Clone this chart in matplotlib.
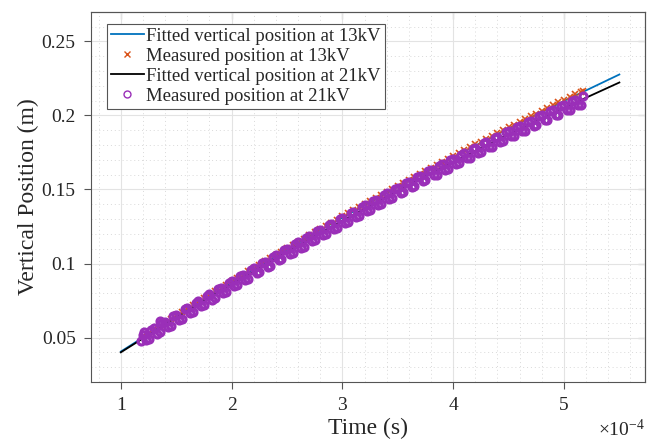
import matplotlib
matplotlib.use("Agg")
import matplotlib.pyplot as plt
from matplotlib.ticker import FixedLocator, FuncFormatter, MultipleLocator

plt.rcParams['font.family'] = ['Liberation Serif', 'DejaVu Serif']
plt.rcParams['mathtext.fontset'] = 'custom'
plt.rcParams['mathtext.rm'] = 'Liberation Serif'

# ---- data (time in units of 1e-4 s, position in m) ----
t_fit = [1.0, 1.5, 2.0, 2.5, 3.0, 3.5, 4.0, 4.5, 5.0, 5.5]
fit_13kV = [0.0405, 0.0642, 0.0872, 0.1095, 0.1310, 0.1518, 0.1719, 0.1912, 0.2098, 0.2277]
fit_21kV = [0.0400, 0.0635, 0.0861, 0.1080, 0.1290, 0.1493, 0.1687, 0.1874, 0.2052, 0.2223]

# measured 13 kV (two interleaved sample sets)
t_13_a = [1.2, 1.3, 1.4, 1.5, 1.6, 1.7, 1.8, 1.9, 2.0, 2.1, 2.2, 2.3, 2.4, 2.5,
          2.6, 2.7, 2.8, 2.9, 3.0, 3.1, 3.2, 3.3, 3.4, 3.5, 3.6, 3.7, 3.8, 3.9,
          4.0, 4.1, 4.2, 4.3, 4.4, 4.5, 4.6, 4.7, 4.8, 4.9, 5.0, 5.1, 5.17]
y_13_a = [0.0509, 0.0556, 0.0603, 0.0650, 0.0697, 0.0743, 0.0789, 0.0835, 0.0880,
          0.0925, 0.0970, 0.1015, 0.1059, 0.1103, 0.1146, 0.1190, 0.1233, 0.1276,
          0.1318, 0.1360, 0.1402, 0.1444, 0.1485, 0.1526, 0.1567, 0.1607, 0.1647,
          0.1687, 0.1727, 0.1766, 0.1805, 0.1844, 0.1882, 0.1920, 0.1958, 0.1995,
          0.2033, 0.2070, 0.2106, 0.2143, 0.2168]
t_13_b = [1.25, 1.35, 1.45, 1.55, 1.65, 1.75, 1.85, 1.95, 2.05, 2.15, 2.25, 2.35,
          2.45, 2.55, 2.65, 2.75, 2.85, 2.95, 3.05, 3.15, 3.25, 3.35, 3.45, 3.55,
          3.65, 3.75, 3.85, 3.95, 4.05, 4.15, 4.25, 4.35, 4.45, 4.55, 4.65, 4.75,
          4.85, 4.95, 5.05, 5.15]
y_13_b = [0.0533, 0.0580, 0.0627, 0.0674, 0.0720, 0.0766, 0.0812, 0.0858, 0.0903,
          0.0947, 0.0992, 0.1037, 0.1081, 0.1125, 0.1168, 0.1212, 0.1254, 0.1297,
          0.1339, 0.1381, 0.1423, 0.1465, 0.1506, 0.1546, 0.1587, 0.1627, 0.1667,
          0.1707, 0.1747, 0.1785, 0.1824, 0.1863, 0.1901, 0.1939, 0.1977, 0.2013,
          0.2051, 0.2088, 0.2124, 0.2161]

# measured 21 kV (four interleaved sample sets)
t_21_a = [1.2, 1.3, 1.4, 1.5, 1.6, 1.7, 1.8, 1.9, 2.0, 2.1, 2.2, 2.3, 2.4, 2.5,
          2.6, 2.7, 2.8, 2.9, 3.0, 3.1, 3.2, 3.3, 3.4, 3.5, 3.6, 3.7, 3.8, 3.9,
          4.0, 4.1, 4.2, 4.3, 4.4, 4.5, 4.6, 4.7, 4.8, 4.9, 5.0, 5.1]
y_21_a = [0.0515, 0.0562, 0.0608, 0.0655, 0.0700, 0.0746, 0.0791, 0.0836, 0.0881,
          0.0925, 0.0969, 0.1013, 0.1056, 0.1100, 0.1142, 0.1185, 0.1227, 0.1269,
          0.1310, 0.1351, 0.1392, 0.1432, 0.1473, 0.1513, 0.1552, 0.1591, 0.1630,
          0.1669, 0.1707, 0.1745, 0.1783, 0.1820, 0.1857, 0.1894, 0.1930, 0.1966,
          0.2002, 0.2037, 0.2072, 0.2107]
t_21_b = [1.18, 1.25, 1.35, 1.45, 1.55, 1.65, 1.75, 1.85, 1.95, 2.05, 2.15, 2.25,
          2.35, 2.45, 2.55, 2.65, 2.75, 2.85, 2.95, 3.05, 3.15, 3.25, 3.35, 3.45,
          3.55, 3.65, 3.75, 3.85, 3.95, 4.05, 4.15, 4.25, 4.35, 4.45, 4.55, 4.65,
          4.75, 4.85, 4.95, 5.05, 5.15, 1.35, 1.21]
y_21_b = [0.0475, 0.0488, 0.0535, 0.0581, 0.0628, 0.0673, 0.0719, 0.0764, 0.0809,
          0.0853, 0.0897, 0.0941, 0.0985, 0.1028, 0.1071, 0.1113, 0.1156, 0.1198,
          0.1239, 0.1281, 0.1322, 0.1362, 0.1403, 0.1443, 0.1482, 0.1522, 0.1561,
          0.1599, 0.1638, 0.1676, 0.1714, 0.1751, 0.1788, 0.1825, 0.1862, 0.1898,
          0.1934, 0.1969, 0.2005, 0.2039, 0.2074, 0.0612, 0.0540]
t_21_c = [1.225, 1.325, 1.425, 1.525, 1.625, 1.725, 1.825, 1.925, 2.025, 2.125,
          2.225, 2.325, 2.425, 2.525, 2.625, 2.725, 2.825, 2.925, 3.025, 3.125,
          3.225, 3.325, 3.425, 3.525, 3.625, 3.725, 3.825, 3.925, 4.025, 4.125,
          4.225, 4.325, 4.425, 4.525, 4.625, 4.725, 4.825, 4.925, 5.025, 5.125]
y_21_c = [0.0480, 0.0527, 0.0573, 0.0620, 0.0665, 0.0711, 0.0756, 0.0801, 0.0846,
          0.0890, 0.0934, 0.0978, 0.1021, 0.1065, 0.1107, 0.1150, 0.1192, 0.1234,
          0.1275, 0.1316, 0.1357, 0.1397, 0.1438, 0.1478, 0.1517, 0.1556, 0.1595,
          0.1634, 0.1672, 0.1710, 0.1748, 0.1785, 0.1822, 0.1859, 0.1895, 0.1931,
          0.1967, 0.2002, 0.2037, 0.2072]
t_21_d = [1.275, 1.375, 1.475, 1.575, 1.675, 1.775, 1.875, 1.975, 2.075, 2.175,
          2.275, 2.375, 2.475, 2.575, 2.675, 2.775, 2.875, 2.975, 3.075, 3.175,
          3.275, 3.375, 3.475, 3.575, 3.675, 3.775, 3.875, 3.975, 4.075, 4.175,
          4.275, 4.375, 4.475, 4.575, 4.675, 4.775, 4.875, 4.975, 5.075, 5.175]
y_21_d = [0.0550, 0.0597, 0.0643, 0.0690, 0.0735, 0.0781, 0.0826, 0.0871, 0.0914,
          0.0958, 0.1002, 0.1046, 0.1089, 0.1133, 0.1175, 0.1218, 0.1260, 0.1302,
          0.1341, 0.1382, 0.1423, 0.1463, 0.1504, 0.1544, 0.1583, 0.1622, 0.1661,
          0.1700, 0.1736, 0.1774, 0.1812, 0.1849, 0.1886, 0.1923, 0.1959, 0.1995,
          0.2031, 0.2066, 0.2098, 0.2133]

x_ticks = [1, 2, 3, 4, 5]
y_ticks = [0.05, 0.10, 0.15, 0.20, 0.25]

C_BLUE = '#0072BD'
C_ORANGE = '#D95319'
C_PURPLE = '#9A2FB8'
C_AX = '#555555'
C_TXT = '#262626'

fig = plt.figure(figsize=(6.54, 4.40), dpi=100)
ax = fig.add_axes([0.139, 0.132, 0.847, 0.841])

ax.plot(t_fit, fit_13kV, color=C_BLUE, lw=1.3, label='Fitted vertical position at 13kV', zorder=2)
ax.plot(t_13_a, y_13_a, ls='none', marker='x', ms=4.5, mew=1.2, color=C_ORANGE,
        label='Measured position at 13kV', zorder=3)
ax.plot(t_13_b, y_13_b, ls='none', marker='x', ms=4.5, mew=1.2, color=C_ORANGE, zorder=3)
ax.plot(t_fit, fit_21kV, color='black', lw=1.3, label='Fitted vertical position at 21kV', zorder=2)
ax.plot(t_21_a, y_21_a, ls='none', marker='o', ms=5, mew=2.3, mfc='none', color=C_PURPLE,
        label='Measured position at 21kV', zorder=4)
for tt, yy in ((t_21_b, y_21_b), (t_21_c, y_21_c), (t_21_d, y_21_d)):
    ax.plot(tt, yy, ls='none', marker='o', ms=5, mew=2.3, mfc='none', color=C_PURPLE, zorder=4)

ax.set_xlim(0.73, 5.73)
ax.set_ylim(0.02, 0.27)
ax.xaxis.set_major_locator(FixedLocator(x_ticks))
ax.yaxis.set_major_locator(FixedLocator(y_ticks))
ax.xaxis.set_minor_locator(MultipleLocator(0.2))
ax.yaxis.set_minor_locator(MultipleLocator(0.01))
ax.xaxis.set_major_formatter(FuncFormatter(lambda v, p: '%g' % v))
ax.yaxis.set_major_formatter(FuncFormatter(lambda v, p: '%g' % round(v, 4)))

ax.grid(True, which='major', color='#e3e3e3', lw=0.8, ls='-')
ax.grid(True, which='minor', color='#d9d9d9', lw=0.7, ls=(0, (1, 3)))
ax.set_axisbelow(True)

for s in ax.spines.values():
    s.set_color(C_AX)
    s.set_linewidth(0.8)
ax.tick_params(which='major', direction='out', length=5, width=0.8, color=C_AX,
               labelsize=14, labelcolor=C_TXT, pad=6)
ax.tick_params(which='minor', length=0)

# inward mirrored ticks on top and right
axt = ax.secondary_xaxis('top')
axt.xaxis.set_major_locator(FixedLocator(x_ticks))
axt.tick_params(direction='in', length=5, width=0.8, color=C_AX, labeltop=False)
axr = ax.secondary_yaxis('right')
axr.yaxis.set_major_locator(FixedLocator(y_ticks))
axr.tick_params(direction='in', length=5, width=0.8, color=C_AX, labelright=False)
for a in (axt, axr):
    for s in a.spines.values():
        s.set_color(C_AX)
        s.set_linewidth(0.8)

ax.set_xlabel('Time (s)', fontsize=17, color=C_TXT, labelpad=3)
ax.set_ylabel('Vertical Position (m)', fontsize=17, color=C_TXT, labelpad=2)

ax.text(1.0, -0.1, r'$\times\mathregular{10^{-4}}$', transform=ax.transAxes,
        ha='right', va='top', fontsize=14, color=C_TXT)

leg = ax.legend(loc='upper left', bbox_to_anchor=(0.029, 0.967), fontsize=13.5,
                frameon=True, fancybox=False, edgecolor='#555555', framealpha=1,
                handlelength=1.75, handletextpad=0.15, borderpad=0.2, labelspacing=0.15,
                borderaxespad=0)
leg.get_frame().set_linewidth(0.8)
for txt in leg.get_texts():
    txt.set_color(C_TXT)
for h in leg.legend_handles:
    if h.get_marker() == 'o':
        h.set_markeredgewidth(1.0)
        h.set_markersize(5)
    if h.get_marker() == 'x':
        h.set_markersize(4)
        h.set_markeredgewidth(1.0)

fig.savefig('out.png', dpi=100)
